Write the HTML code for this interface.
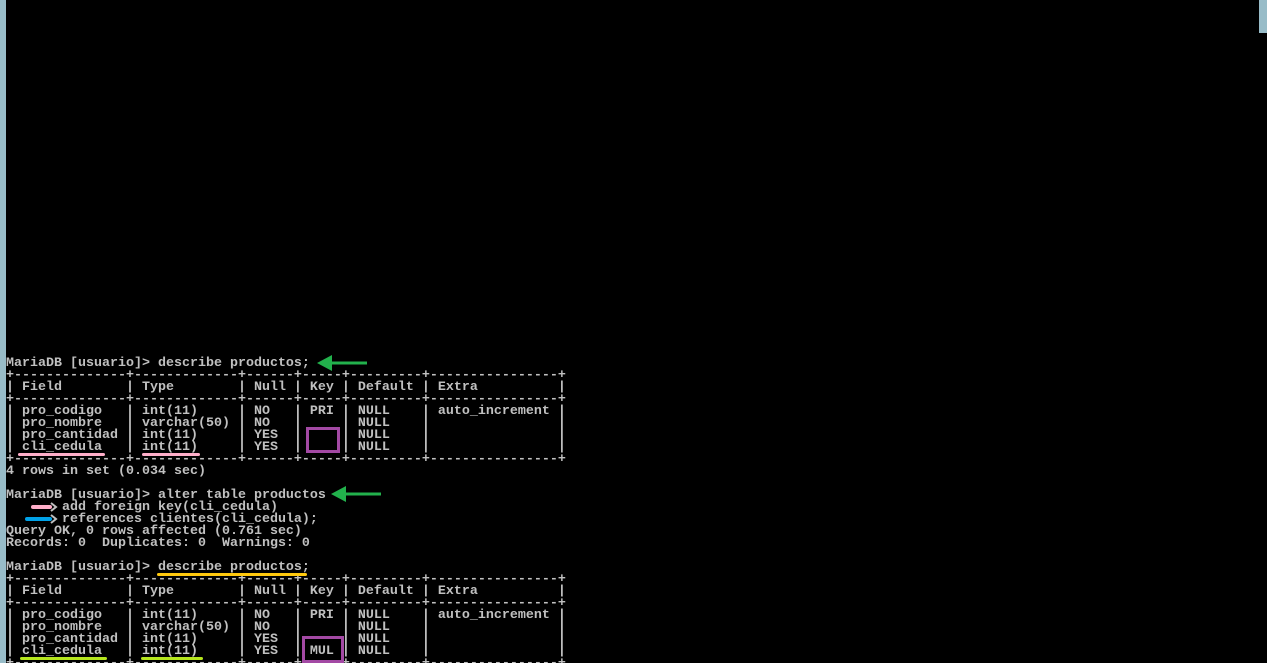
<!DOCTYPE html>
<html><head><style>
html,body{margin:0;padding:0;background:#000;width:1267px;height:663px;overflow:hidden;position:relative}
.l{position:absolute;left:0;top:0;width:6px;height:663px;background:#98bcc8}
.r{position:absolute;left:1259px;top:0;width:8px;height:33px;background:#98bcc8}
pre{position:absolute;left:6px;top:358px;margin:0;font-family:"Liberation Mono",monospace;font-size:13.33px;line-height:12px;color:#c0c0c0;font-weight:bold;letter-spacing:0}
.u{position:absolute;height:3px;border-radius:2px}
.b{position:absolute;border:3px solid #a349a4;box-sizing:border-box}
</style></head><body>
<div class="l"></div><div class="r"></div>
<pre>MariaDB [usuario]&gt; describe productos;
+--------------+-------------+------+-----+---------+----------------+
| Field        | Type        | Null | Key | Default | Extra          |
+--------------+-------------+------+-----+---------+----------------+
| pro_codigo   | int(11)     | NO   | PRI | NULL    | auto_increment |
| pro_nombre   | varchar(50) | NO   |     | NULL    |                |
| pro_cantidad | int(11)     | YES  |     | NULL    |                |
| cli_cedula   | int(11)     | YES  |     | NULL    |                |
+--------------+-------------+------+-----+---------+----------------+
4 rows in set (0.034 sec)

MariaDB [usuario]&gt; alter table productos
       add foreign key(cli_cedula)
       references clientes(cli_cedula);
Query OK, 0 rows affected (0.761 sec)
Records: 0  Duplicates: 0  Warnings: 0

MariaDB [usuario]&gt; describe productos;
+--------------+-------------+------+-----+---------+----------------+
| Field        | Type        | Null | Key | Default | Extra          |
+--------------+-------------+------+-----+---------+----------------+
| pro_codigo   | int(11)     | NO   | PRI | NULL    | auto_increment |
| pro_nombre   | varchar(50) | NO   |     | NULL    |                |
| pro_cantidad | int(11)     | YES  |     | NULL    |                |
| cli_cedula   | int(11)     | YES  | MUL | NULL    |                |
+--------------+-------------+------+-----+---------+----------------+</pre>
<div class="u" style="left:18px;top:453px;width:87px;background:#ffaec9"></div>
<div class="u" style="left:142px;top:453px;width:58px;background:#ffaec9"></div>
<div class="b" style="left:306px;top:427px;width:34px;height:26px"></div>
<div class="u" style="left:157px;top:573px;width:150px;background:#ffc90e"></div>
<div class="u" style="left:20px;top:657px;width:87px;background:#b5e61d"></div>
<div class="u" style="left:141px;top:657px;width:62px;background:#b5e61d"></div>
<div class="b" style="left:302px;top:636px;width:42px;height:27px"></div>
<svg width="1267" height="663" style="position:absolute;left:0;top:0">
<line x1="367" y1="363" x2="328" y2="363" stroke="#22b14c" stroke-width="3"/>
<polygon points="317,363 332,355 332,371" fill="#22b14c"/>
<line x1="381" y1="494" x2="342" y2="494" stroke="#22b14c" stroke-width="3"/>
<polygon points="331,494 346,486 346,502" fill="#22b14c"/>
<line x1="33" y1="507" x2="50" y2="507" stroke="#ffaec9" stroke-width="4" stroke-linecap="round"/>
<polyline points="51,503 56,507 51,511" fill="none" stroke="#c0c0c0" stroke-width="2"/>
<line x1="27" y1="519" x2="50" y2="519" stroke="#00a2e8" stroke-width="4" stroke-linecap="round"/>
<polyline points="51,515 56,519 51,523" fill="none" stroke="#c0c0c0" stroke-width="2"/>
</svg>
</body></html>
